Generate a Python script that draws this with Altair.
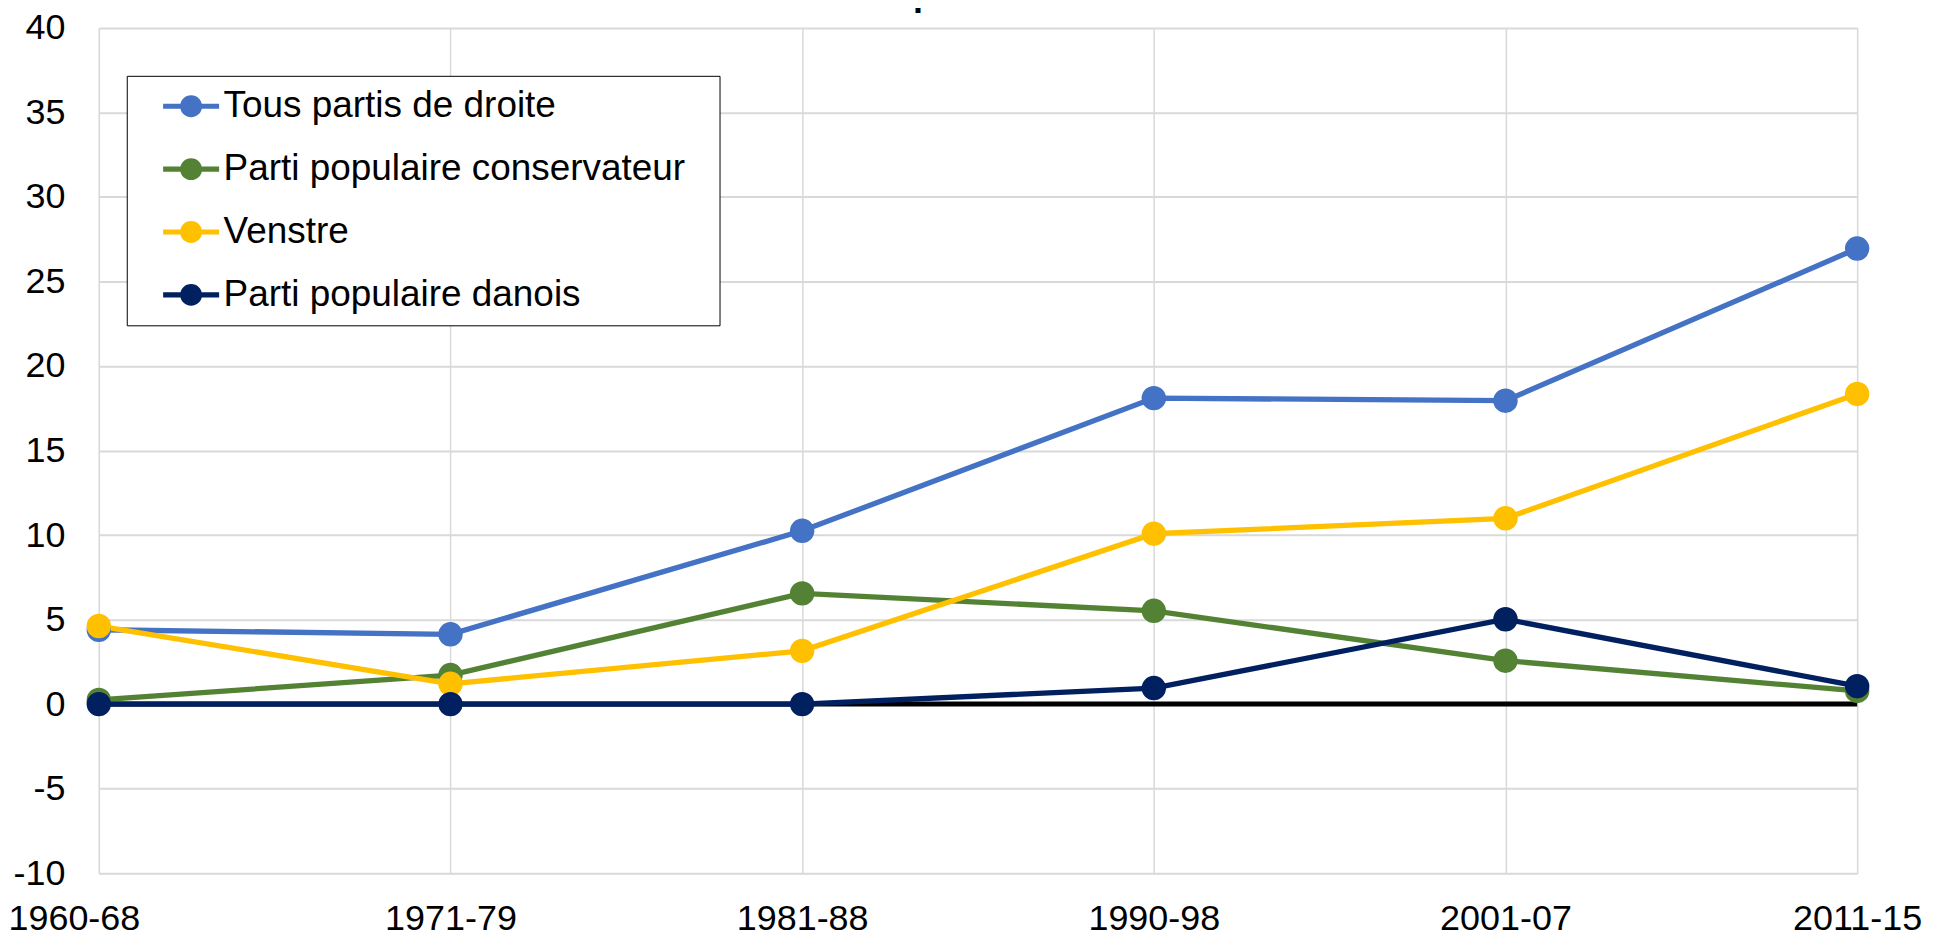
import altair as alt
import pandas as pd

periods = ["1960-68", "1971-79", "1981-88", "1990-98", "2001-07", "2011-15"]
series_names = ["Tous partis de droite", "Parti populaire conservateur", "Venstre", "Parti populaire danois"]
tous = [4.4, 4.13, 10.25, 18.1, 17.95, 26.95]
conservateur = [0.25, 1.72, 6.55, 5.52, 2.57, 0.78]
venstre = [4.62, 1.2, 3.15, 10.08, 10.99, 18.35]
danois = [0.0, 0.0, 0.0, 0.95, 5.02, 1.06]
colors = ["#4472C4", "#548235", "#FFC000", "#002060"]
y_ticks = [-10, -5, 0, 5, 10, 15, 20, 25, 30, 35, 40]
title_line = "du secteur privé au Danemark"

values = [tous, conservateur, venstre, danois]
rows = []
for si, (name, vals) in enumerate(zip(series_names, values)):
    for p, v in zip(periods, vals):
        rows.append({"period": p, "series": name, "value": v, "s": si})
df = pd.DataFrame(rows)

FONT = "Liberation Sans"
W, H = 1762, 847

legend_symbol = ("M-2.55,-0.23 L2.55,-0.23 L2.55,0.23 L-2.55,0.23 Z "
                 "M1,0 A1,1 0 1,1 -1,0 A1,1 0 1,1 1,0 Z")

legend = alt.Legend(
    orient="none", legendX=28, legendY=48,
    title=" ", titleOrient="right", titlePadding=22, titleFontSize=10,
    symbolType=legend_symbol, symbolSize=484, symbolOffset=34, labelOffset=14,
    symbolStrokeWidth=0, symbolOpacity=1,
    labelFont=FONT, labelFontSize=37, labelColor="black", labelLimit=2000,
    padding=12, rowPadding=25,
    fillColor="white", strokeColor="black",
)

x_enc = alt.X("period:N", sort=periods, title=None,
              scale=alt.Scale(type="point", padding=0),
              axis=alt.Axis(labelAngle=0, labelFont=FONT, labelFontSize=36, labelColor="black",
                            labelPadding=28, ticks=False, domain=False,
                            labelOffset={"condition": {"test": "datum.value === '1960-68'", "value": -25},
                                         "value": 0},
                            grid=True, gridColor="#d9d9d9", gridWidth=1.5))
y_enc = alt.Y("value:Q", title=None,
              scale=alt.Scale(domain=[-10, 40], nice=False, zero=False),
              axis=alt.Axis(values=y_ticks, labelFont=FONT, labelFontSize=36, labelColor="black",
                            labelExpr="'' + datum.value",
                            labelPadding=34, ticks=False, domain=False,
                            grid=True, gridColor="#d9d9d9", gridWidth=2))
color_enc = alt.Color("series:N", scale=alt.Scale(domain=series_names, range=colors),
                      sort=series_names, legend=legend)

base = alt.Chart(df).encode(x=x_enc, y=y_enc, color=color_enc)

zero = alt.Chart(pd.DataFrame({"z": [0]})).mark_rule(color="black", strokeWidth=5).encode(y="z:Q")
lines = base.mark_line(strokeWidth=5.3)
points = base.mark_point(filled=True, size=600, opacity=1)

title = alt.Chart(pd.DataFrame({"t": [title_line]})).mark_text(
    font=FONT, fontSize=36, fontWeight="bold", color="black",
    align="center", baseline="alphabetic"
).encode(text="t:N", x=alt.value(W / 2), y=alt.value(-22))

chart = alt.layer(zero, lines, points, title).properties(
    width=W, height=H,
    autosize=alt.AutoSizeParams(type="none"),
    padding={"left": 91, "top": 19, "right": 70, "bottom": 63},
).configure_view(stroke="black", strokeWidth=2).configure(background="white")

chart.save("out.html", embed_options={"renderer": "svg", "actions": False})
